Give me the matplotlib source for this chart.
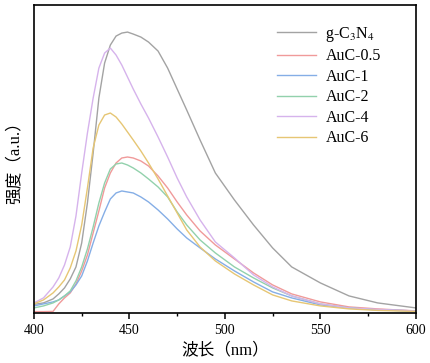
import numpy as np
import matplotlib
matplotlib.use("Agg")
import matplotlib.pyplot as plt
from matplotlib.ticker import MultipleLocator

plt.rcParams['font.family'] = ['Liberation Serif', 'Noto Sans CJK SC']
plt.rcParams['mathtext.fontset'] = 'stix'

# wavelength grid (nm) and PL intensity (a.u.)
wl = [400, 405, 410, 413, 416, 419, 422, 425, 428, 431, 434, 437, 440, 443,
      446, 449, 452, 456, 460, 465, 470, 475, 480, 487, 495, 505, 515, 525,
      535, 550, 565, 580, 600]

gcn = [8.5, 10, 14, 19, 25, 34, 46, 70, 110, 160, 215, 250, 268, 277,
       280, 281, 279, 276, 271, 262, 245, 224, 203, 173, 140, 113, 88, 65,
       46, 30, 17, 10, 5]
auc05 = [1.3, 1.3, 1.5, 9, 15, 20, 29, 42, 58, 80, 102, 125, 140, 150,
         155, 156, 155, 152, 147, 137, 125, 111, 98, 82, 68, 54, 40, 28,
         19, 11, 6, 4, 2]
auc1 = [7, 9, 11, 13, 17, 21, 28, 37, 52, 70, 87, 101, 114, 120,
        122, 121, 120, 116, 111, 103, 94, 84, 75, 65, 54, 42, 31, 21,
        15, 8, 5, 3, 2]
auc2 = [5, 7, 10, 13, 17, 22, 32, 46, 64, 86, 110, 130, 144, 149,
        150, 148, 145, 140, 134, 126, 116, 101, 88, 73, 60, 46, 35, 25,
        17, 9, 5, 3, 2]
auc4 = [10, 15, 26, 35, 48, 66, 97, 140, 180, 215, 245, 260, 265, 258,
        248, 236, 224, 209, 195, 176, 156, 135, 116, 93, 71, 55, 38, 26,
        17, 9, 5, 3.5, 2]
auc6 = [9, 13, 20, 26, 33, 45, 62, 88, 125, 165, 188, 198, 200, 196,
        189, 181, 173, 162, 150, 134, 117, 100, 83, 66, 52, 39, 28, 18,
        12, 7, 4, 2.5, 1.5]

series = [gcn, auc05, auc1, auc2, auc4, auc6]
labels = ['g-C$_3$N$_4$', 'AuC-0.5', 'AuC-1', 'AuC-2', 'AuC-4', 'AuC-6']
colors = ['#a3a3a3', '#f09a9a', '#85aee6', '#92d1ac', '#d6b3ec', '#e6c674']

fig = plt.figure(figsize=(4.3, 3.63), dpi=100)
ax = fig.add_axes([0.079, 0.138, 0.888, 0.848])

for y, lab, c in zip(series, labels, colors):
    ax.plot(wl, y, color=c, lw=1.0, label=lab)

ax.set_xlim(400, 600)
ax.set_ylim(0, 308)
ax.xaxis.set_major_locator(MultipleLocator(50))
ax.xaxis.set_minor_locator(MultipleLocator(25))
ax.tick_params(axis='x', which='major', direction='out', length=4, width=1.1, labelsize=10, pad=4)
ax.tick_params(axis='x', which='minor', direction='out', length=2, width=1.0)
ax.set_yticks([])
for s in ax.spines.values():
    s.set_linewidth(1.2)

ax.set_xlabel('波长（nm）', fontsize=12, labelpad=4)
ax.set_ylabel('强度（a.u.）', fontsize=12, labelpad=8)

ax.legend(loc='upper left', bbox_to_anchor=(0.6, 0.982), frameon=False,
          fontsize=11.5, handlelength=2.4, labelspacing=0.28, handletextpad=0.6)

fig.savefig('out.png', dpi=100)
